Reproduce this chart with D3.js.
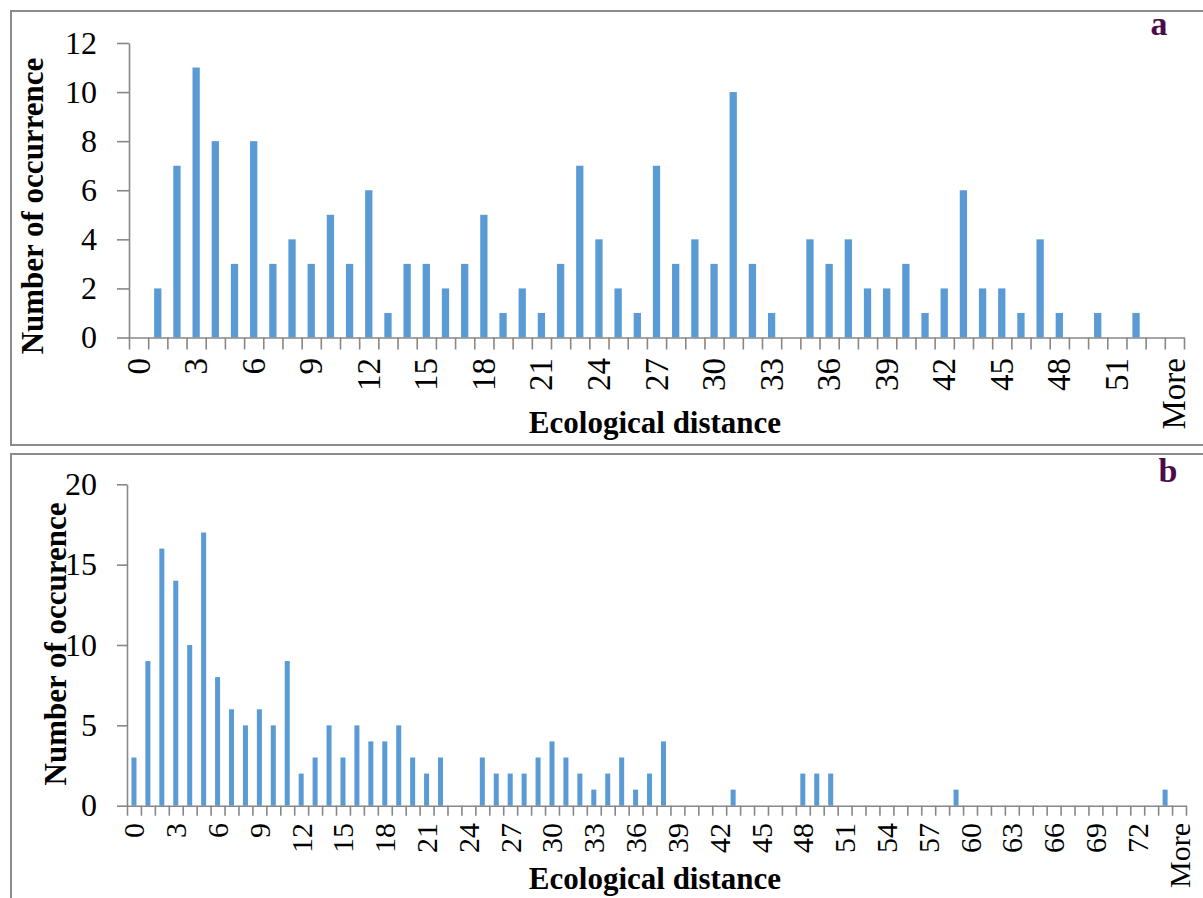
<!DOCTYPE html>
<html>
<head>
<meta charset="utf-8">
<script src="https://cdn.jsdelivr.net/npm/d3@7"></script>
<style>
  body { margin: 0; background: #fff; }
  svg { display: block; }
  text { font-family: "Liberation Serif", "Times New Roman", serif; fill: #000; }
</style>
</head>
<body>
<div class="graph"></div>
<script>
// panel a data
var catsA = d3.range(54).map(String).concat(['More']);
var countsA = [0, 2, 7, 11, 8, 3, 8, 3, 4, 3, 5, 3, 6, 1, 3, 3, 2, 3, 5, 1,
    2, 1, 3, 7, 4, 2, 1, 7, 3, 4, 3, 10, 3, 1, 0, 4, 3, 4, 2, 2,
    3, 1, 2, 6, 2, 2, 1, 4, 1, 0, 1, 0, 1, 0, 0];
var yTicksA = [0, 2, 4, 6, 8, 10, 12];

// panel b data
var catsB = d3.range(75).map(String).concat(['More']);
var countsB = [3, 9, 16, 14, 10, 17, 8, 6, 5, 6, 5, 9, 2, 3, 5, 3, 5, 4, 4, 5,
    3, 2, 3, 0, 0, 3, 2, 2, 2, 3, 4, 3, 2, 1, 2, 3, 1, 2, 4, 0,
    0, 0, 0, 1, 0, 0, 0, 0, 2, 2, 2, 0, 0, 0, 0, 0, 0, 0, 0, 1,
    0, 0, 0, 0, 0, 0, 0, 0, 0, 0, 0, 0, 0, 0, 1, 0];
var yTicksB = [0, 5, 10, 15, 20];

var barColor = '#5b9bd5';
var axisColor = '#878787';

var svg = d3.select('.graph')
    .append('svg')
    .attr('width', 1203)
    .attr('height', 898);

function drawPanel(p) {
    var g = svg.append('g');

    g.append('rect')
        .attr('x', 11)
        .attr('y', p.frameTop)
        .attr('width', 1200)
        .attr('height', p.frameH)
        .attr('fill', 'none')
        .attr('stroke', '#8c8c8c')
        .attr('stroke-width', 2);

    var yScale = d3.scaleLinear()
        .domain([0, p.yTicks[p.yTicks.length - 1]])
        .range([p.y0, p.yTop]);

    var xBand = d3.scaleBand()
        .domain(p.cats)
        .range([p.x0, p.x1])
        .paddingInner(p.gap)
        .paddingOuter(p.gap / 2);

    var xIdx = d3.scaleLinear()
        .domain([0, p.cats.length])
        .range([p.x0, p.x1]);

    // bars
    g.selectAll('rect.bar')
        .data(p.counts)
        .enter()
        .append('rect')
        .attr('class', 'bar')
        .attr('x', (d, i) => xBand(p.cats[i]))
        .attr('y', d => yScale(d))
        .attr('width', xBand.bandwidth())
        .attr('height', d => p.y0 - yScale(d))
        .attr('fill', barColor);

    // y axis
    var yAxis = d3.axisLeft(yScale)
        .tickValues(p.yTicks)
        .tickSize(p.tick)
        .tickSizeOuter(0)
        .tickPadding(p.yPad);

    var ya = g.append('g')
        .attr('transform', 'translate(' + p.x0 + ',0)')
        .call(yAxis);
    ya.selectAll('text')
        .style('font-size', '32px')
        .attr('font-family', null);

    // x axis, ticks between categories
    var xAxis = d3.axisBottom(xIdx)
        .tickValues(d3.range(p.cats.length + 1))
        .tickFormat('')
        .tickSize(p.tick)
        .tickSizeOuter(0);

    g.append('g')
        .attr('transform', 'translate(0,' + p.y0 + ')')
        .call(xAxis);

    g.selectAll('.domain, .tick line')
        .attr('stroke', axisColor)
        .attr('stroke-width', 1.6);

    // category labels, every third
    g.selectAll('text.xlab')
        .data(p.cats.filter((d, i) => i % 3 === 0))
        .enter()
        .append('text')
        .attr('class', 'xlab')
        .attr('transform', d => 'translate(' + (xBand(d) + xBand.bandwidth() / 2) + ',' + p.labTop + ') rotate(-90)')
        .attr('text-anchor', 'end')
        .attr('dominant-baseline', 'central')
        .style('font-size', p.xFont + 'px')
        .text(d => d);

    g.append('text')
        .attr('transform', 'translate(' + p.yTitleX + ',' + p.yTitleY + ') rotate(-90)')
        .attr('text-anchor', 'middle')
        .style('font-size', '31px')
        .style('font-weight', 'bold')
        .text(p.yTitle);

    g.append('text')
        .attr('x', 655)
        .attr('y', p.xTitleY)
        .attr('text-anchor', 'middle')
        .style('font-size', '31px')
        .style('font-weight', 'bold')
        .text('Ecological distance');

    g.append('text')
        .attr('x', p.tagX)
        .attr('y', p.tagY)
        .attr('text-anchor', 'middle')
        .style('font-size', '34px')
        .style('font-weight', 'bold')
        .style('fill', '#4b0b4b')
        .text(p.tag);
}

drawPanel({
    cats: catsA, counts: countsA, yTicks: yTicksA,
    frameTop: 11, frameH: 434,
    x0: 129, x1: 1184, y0: 337.5, yTop: 43, gap: 0.62,
    tick: 12, yPad: 20, labTop: 358, xFont: 33,
    yTitle: 'Number of occurrence', yTitleX: 43, yTitleY: 206,
    xTitleY: 433, tag: 'a', tagX: 1159, tagY: 35
});

drawPanel({
    cats: catsB, counts: countsB, yTicks: yTicksB,
    frameTop: 454, frameH: 460,
    x0: 127, x1: 1186, y0: 805.7, yTop: 484.3, gap: 0.64,
    tick: 10, yPad: 20, labTop: 823, xFont: 30,
    yTitle: 'Number of occurence', yTitleX: 66, yTitleY: 644,
    xTitleY: 889, tag: 'b', tagX: 1168, tagY: 482
});
</script>
</body>
</html>
